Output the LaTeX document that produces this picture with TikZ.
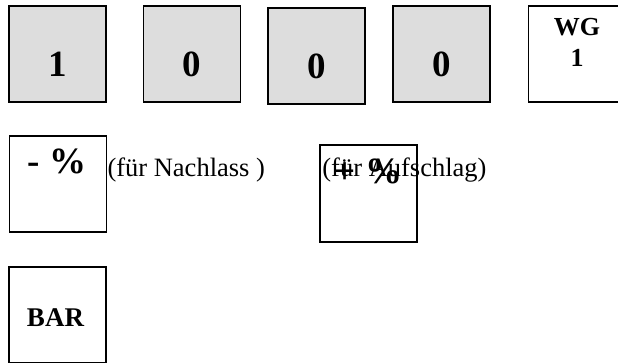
\documentclass[tikz,border=0pt]{standalone}
\usepackage{fontspec}
\setmainfont{Liberation Serif}
\usetikzlibrary{calc}
\definecolor{tastengrau}{HTML}{DDDDDD}

\begin{document}
\begin{tikzpicture}[x=1pt, y=-1pt,
    taste/.style={rectangle, draw, line width=1.6pt, minimum width=97pt, minimum height=96pt, inner sep=0pt},
    ziffer/.style={anchor=base, inner sep=0pt, font=\fontsize{37}{37}\selectfont\bfseries},
    beschr/.style={anchor=base, inner sep=0pt, font=\fontsize{26}{30}\selectfont\bfseries},
    hinweis/.style={anchor=base west, inner sep=0pt, font=\fontsize{26.5}{30}\selectfont}
]
    \useasboundingbox (0,0) rectangle (618,363);

    % Zifferntasten 1 0 0 0
    \foreach \i/\x/\y/\d in {1/57.5/54/1, 2/192/54/0, 3/316.5/56/0, 4/441.5/54/0} {
        \node[taste, fill=tastengrau] (z\i) at (\x,\y) {};
        \node[ziffer] (d\i) at ($(z\i.north)+(0,71)$) {\d};
    }

    % Warengruppe
    \node[taste, fill=white] (wg) at (577,54) {};
    \node[beschr] (wgtext) at ($(wg.north)+(0,30)$) {WG};
    \node[beschr] (wgnr) at ($(wg.north)+(0,61)$) {1};

    % Prozenttasten
    \node[taste] (minus) at (58,184) {};
    \node[ziffer] (minustext) at ($(minus.north)+(-1,38)$) {- \%};
    \node[hinweis] (nachlass) at ($(minus.north east)+(0,41)$) {(für Nachlass )};

    \node[taste, minimum height=97pt] (plus) at (368.5,193.5) {};
    \node[hinweis] (aufschlag) at ($(plus.north west)+(3,32)$) {(für Aufschlag)};
    \node[ziffer] (plustext) at ($(plus.north)+(0,39)$) {+ \%};

    % Bar
    \node[taste] (bar) at (57.5,315) {};
    \node[beschr, font=\fontsize{27}{30}\selectfont\bfseries] (bartext) at ($(bar.north)+(-2,60)$) {BAR};
\end{tikzpicture}
\end{document}
